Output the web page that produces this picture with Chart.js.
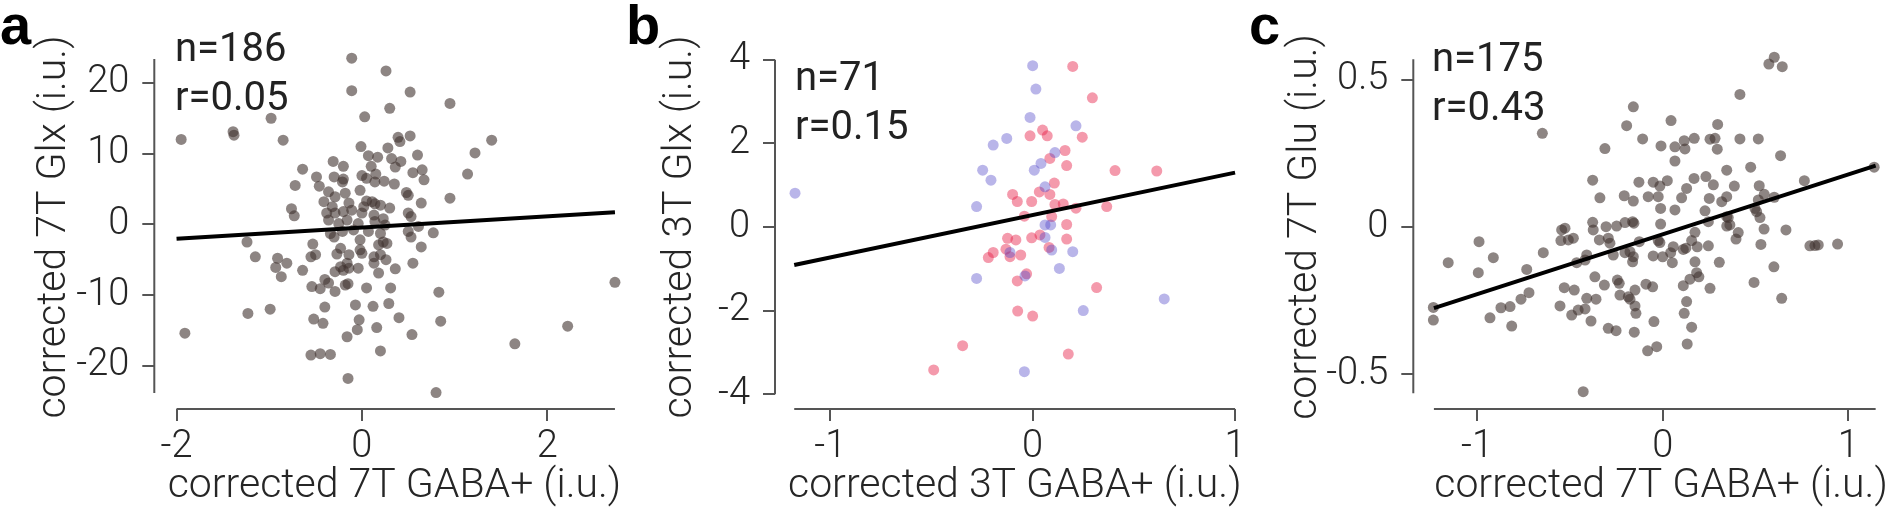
<!DOCTYPE html>
<html>
<head>
<meta charset="utf-8">
<script src="https://cdn.jsdelivr.net/npm/chart.js@4.4.0/dist/chart.umd.min.js"></script>
<style>
    body { margin: 0; width: 1890px; height: 511px; overflow: hidden; background: #fff; position: relative; }
    canvas { position: absolute; top: 0; }
    .letter { position: absolute; top: -3px; font: bold 56px "Liberation Sans", Arial, sans-serif; line-height: 56px; color: #000; }
    .stat { position: absolute; font: 40px Roboto, sans-serif; line-height: 48.5px; color: #222; white-space: pre; }
</style>
</head>
<body>
<canvas id="chartA" width="640" height="511" style="left:0px;width:640px;height:511px"></canvas>
<canvas id="chartB" width="630" height="511" style="left:630px;width:630px;height:511px"></canvas>
<canvas id="chartC" width="655" height="511" style="left:1260px;width:655px;height:511px"></canvas>

<div class="letter" style="left:0px">a</div>
<div class="letter" style="left:626px">b</div>
<div class="letter" style="left:1249px">c</div>
<div class="stat" style="left:175px;top:24px">n=186<br>r=0.05</div>
<div class="stat" style="left:795px;top:53px">n=71<br>r=0.15</div>
<div class="stat" style="left:1432px;top:34px">n=175<br>r=0.43</div>

<script>
// Panel a: 7T GABA+ vs 7T Glx
const aGaba = [-1.95,-1.91,-1.39,-1.38,-0.98,-0.85,-0.64,-0.49,-0.46,-0.72,-0.76,-0.73,-0.31,-0.20,-1.24,-1.15,-0.91,-0.81,-0.93,-0.87,-0.64,-0.53,-0.55,-0.50,-0.54,-0.45,-0.40,-0.36,-0.29,-1.23,-0.99,-0.40,-0.52,-0.42,-0.55,-0.45,-0.34,-0.16,-0.15,-0.11,0.26,-0.11,0.52,0.30,0.95,0.03,-0.01,0.28,0.39,0.41,0.52,0.07,0.17,0.32,0.42,0.36,0.60,1.22,0.10,0.65,0.55,0.67,1.14,0.00,0.15,0.05,0.14,0.24,0.35,-0.30,-0.20,-0.02,0.48,0.50,0.64,0.95,-0.29,-0.18,-0.14,-0.32,0.05,0.11,0.14,0.20,0.02,0.30,0.50,0.53,-0.29,-0.20,-0.11,0.00,-0.36,-0.25,-0.16,-0.04,0.13,0.23,0.25,0.14,0.61,0.77,0.50,0.53,-0.34,-0.21,-0.09,0.07,0.20,-0.02,0.23,0.27,0.18,0.64,-0.23,-0.02,-0.27,-0.14,0.00,0.13,0.20,0.26,0.13,0.55,-0.16,-0.14,-0.04,0.36,0.18,-0.29,-0.20,-0.15,0.05,0.31,0.83,-0.07,0.12,0.29,0.40,-0.03,-0.05,0.16,0.54,0.85,0.20,0.80,1.40,2.73,2.22,1.65,-0.41,-0.38,-0.21,-0.30,-0.23,-0.18,-0.36];
const aGlx = [12.0,-15.4,13.1,12.6,15.0,11.9,7.8,6.7,5.4,5.5,2.2,1.2,8.9,8.2,-2.5,-4.6,-4.8,-5.5,-6.1,-7.4,-6.5,-2.8,-4.6,-4.3,-8.8,-9.1,-7.8,-8.3,-9.5,-12.6,-12.0,-11.7,-13.4,-14.0,-18.5,-18.3,-18.4,-15.9,-21.8,23.5,21.7,18.9,18.7,16.4,17.1,15.2,11.0,10.8,12.3,11.7,12.5,9.7,9.5,9.3,8.9,8.1,9.8,10.1,8.2,7.7,7.3,6.3,7.1,6.9,7.1,6.5,6.0,6.1,5.7,6.7,6.4,4.8,4.5,4.1,3.0,3.7,3.9,4.4,3.0,2.5,3.3,3.2,2.9,2.7,2.5,2.3,1.6,1.1,1.6,1.8,2.0,1.6,0.6,0.1,0.6,0.1,1.3,0.8,-0.1,0.4,-0.3,-1.2,-1.0,-1.8,-1.3,-1.0,-0.8,-1.0,-1.3,-2.2,-2.5,-2.7,-2.9,-3.2,-3.4,-3.6,-4.2,-4.3,-4.1,-4.6,-4.3,-5.0,-5.5,-5.5,-5.5,-6.2,-6.2,-6.3,-6.9,-6.7,-6.5,-8.4,-9.0,-9.0,-9.6,-11.4,-11.6,-11.2,-13.2,-13.5,-14.9,-14.6,-15.6,-13.7,-17.9,-23.8,11.9,-8.2,-14.4,-16.9,3.2,1.6,6.0,-1.8,-6.0,-8.6,4.6];
const aFitX = [-2, 2.73];
const aFitY = [-2.04, 1.70];
const aTicksX = [-2, 0, 2];
const aTicksY = [-20, -10, 0, 10, 20];

// Panel b: 3T GABA+ vs 3T Glx, two sites
const bBlueGaba = [-1.174,-0.195,-0.128,-0.247,-0.206,-0.277,-0.277,-0.041,0.000,0.016,-0.013,0.041,0.008,0.061,0.061,0.061,-0.112,-0.038,0.214,0.110,0.089,0.094,0.198,0.132,0.250,0.650];
const bBlueGlx = [0.81,1.96,2.12,1.36,1.12,0.49,-1.23,-3.46,3.86,3.30,2.62,1.52,1.36,0.96,0.05,-0.25,-0.61,-1.17,2.42,1.78,0.05,-0.55,-0.59,-0.99,-2.00,-1.72];
const bPinkGaba = [-0.013,0.049,-0.099,-0.076,-0.005,0.033,-0.041,-0.124,-0.083,-0.005,0.036,-0.132,-0.112,-0.195,-0.219,-0.059,-0.030,-0.076,-0.074,0.000,-0.346,-0.489,0.198,0.295,0.072,0.245,0.160,0.085,0.168,0.407,0.613,0.107,0.085,0.110,0.151,0.214,0.366,0.094,0.168,0.168,0.081,0.316,0.176];
const bPinkGlx = [2.18,2.32,0.78,0.61,0.61,0.84,0.26,-0.27,-0.31,-0.26,-0.19,-0.53,-0.71,-0.61,-0.73,-0.67,-1.12,-1.29,-2.01,-2.13,-2.84,-3.42,3.84,3.09,2.18,2.15,1.83,1.64,1.47,1.35,1.34,1.05,0.78,0.54,0.55,0.45,0.49,0.25,0.06,-0.29,-0.49,-1.45,-3.04];
const bFitX = [-1.178, 1];
const bFitY = [-0.91, 1.30];
const bTicksX = [-1, 0, 1];
const bTicksY = [-4, -2, 0, 2, 4];

// Panel c: 7T GABA+ vs 7T Glu
const cGaba = [-0.648,-1.235,-1.235,-1.155,-0.989,-0.993,-0.912,-0.930,-0.871,-0.822,-0.813,-0.763,-0.720,-0.732,-0.643,-0.544,-0.526,-0.548,-0.508,-0.481,-0.463,-0.530,-0.476,-0.553,-0.490,-0.455,-0.428,
    -0.158,-0.194,0.045,0.296,-0.108,-0.311,-0.009,0.066,0.116,0.120,0.170,0.255,0.282,0.294,0.066,0.345,-0.377,-0.128,-0.051,-0.015,0.025,0.169,0.233,0.273,0.129,-0.338,-0.207,-0.158,-0.078,-0.024,0.102,0.251,0.318,0.345,-0.011,0.066,0.228,-0.377,-0.374,-0.305,-0.248,-0.203,-0.162,-0.155,-0.011,0.246,0.345,0.345,0.174,-0.341,-0.293,-0.284,-0.126,-0.024,-0.015,0.156,0.186,0.246,0.057,0.111,0.125,-0.409,-0.418,-0.266,-0.203,-0.176,-0.158,-0.162,-0.051,0.000,0.043,0.052,0.305,0.174,0.183,0.195,0.147,0.111,0.255,-0.365,-0.314,-0.244,-0.234,-0.149,-0.090,-0.054,-0.230,-0.185,-0.176,-0.409,-0.359,-0.149,-0.144,0.129,0.116,-0.418,-0.386,-0.047,0.156,-0.293,-0.251,-0.153,0.132,-0.081,-0.032,
    0.601,0.572,0.644,0.416,0.416,0.515,0.635,0.474,0.386,0.520,0.763,1.139,0.547,0.601,0.515,0.497,0.506,0.524,0.353,0.362,0.546,0.664,0.407,0.395,0.529,0.793,0.820,0.838,0.942,0.599,0.492,0.641];
const cGlu = [0.318,-0.273,-0.316,-0.121,-0.050,-0.155,-0.104,-0.308,-0.274,-0.270,-0.336,-0.245,-0.223,-0.144,-0.087,-0.010,-0.004,-0.046,-0.044,-0.038,-0.121,-0.206,-0.214,-0.268,-0.299,-0.282,-0.559,
    0.408,0.344,0.361,0.348,0.299,0.266,0.275,0.272,0.293,0.265,0.301,0.298,0.301,0.264,0.224,0.193,0.159,0.152,0.152,0.139,0.157,0.165,0.171,0.143,0.131,0.099,0.106,0.088,0.103,0.103,0.099,0.097,0.086,0.103,0.063,0.058,0.055,0.016,-0.010,0.001,0.003,0.015,0.018,0.013,0.010,0.018,0.035,0.003,-0.018,-0.044,-0.038,-0.055,-0.050,-0.046,-0.053,-0.046,-0.067,-0.064,-0.067,-0.076,-0.072,-0.095,-0.112,-0.095,-0.087,-0.084,-0.101,-0.118,-0.098,-0.101,-0.087,-0.121,-0.120,-0.118,-0.155,-0.169,-0.177,-0.199,-0.208,-0.169,-0.197,-0.180,-0.191,-0.214,-0.194,-0.203,-0.231,-0.237,-0.245,-0.242,-0.245,-0.268,-0.293,-0.253,-0.293,-0.278,-0.319,-0.321,-0.340,-0.344,-0.352,-0.357,-0.397,-0.420,-0.406,
    0.576,0.553,0.544,0.450,0.299,0.299,0.242,0.203,0.139,0.140,0.157,0.203,0.111,0.101,0.092,0.063,0.052,0.032,0.032,0.007,-0.007,-0.010,-0.019,-0.041,-0.059,-0.064,-0.063,-0.061,-0.058,-0.135,-0.188,-0.242];
const cFitX = [-1.232, 1.147];
const cFitY = [-0.275, 0.208];
const cTicksX = [-1, 0, 1];
const cTicksY = [-0.5, 0, 0.5];

const spineColor = '#555555';
const textColor = '#262626';
const grayDot = 'rgba(65, 52, 49, 0.6)';
const blueDot = 'rgba(80, 70, 200, 0.4)';
const pinkDot = 'rgba(230, 30, 70, 0.45)';

function zip(xs, ys) {
    return xs.map((x, i) => ({ x: x, y: ys[i] }));
}

// offset spines like the original figure: each axis line only spans its own range
const spinePlugin = {
    id: 'spines',
    afterDraw(chart, args, opts) {
        const { ctx, chartArea, scales } = chart;
        ctx.save();
        ctx.strokeStyle = spineColor;
        ctx.lineWidth = 2;
        ctx.beginPath();
        ctx.moveTo(scales.x.getPixelForValue(opts.xSpan[0]), chartArea.bottom);
        ctx.lineTo(scales.x.getPixelForValue(opts.xSpan[1]), chartArea.bottom);
        ctx.moveTo(chartArea.left, scales.y.getPixelForValue(opts.ySpan[0]));
        ctx.lineTo(chartArea.left, scales.y.getPixelForValue(opts.ySpan[1]));
        ctx.stroke();
        ctx.restore();
    }
};

function buildPanel(canvasId, p) {
    const datasets = [{
        data: zip(p.fitX, p.fitY),
        showLine: true,
        borderColor: '#000',
        borderWidth: 4,
        pointRadius: 0,
        order: 0
    }];
    p.groups.forEach(g => {
        datasets.push({
            data: g.points,
            backgroundColor: g.color,
            borderWidth: 0,
            pointRadius: 5.5,
            order: 1
        });
    });

    const tickFont = { family: 'Roboto', size: 38, weight: 300 };
    const titleFont = { family: 'Roboto', size: 41, weight: 300 };

    return new Chart(document.getElementById(canvasId), {
        type: 'scatter',
        data: { datasets: datasets },
        options: {
            responsive: false,
            animation: false,
            devicePixelRatio: 1,
            layout: { padding: { left: 0, top: 45, right: p.padRight, bottom: 0 } },
            plugins: {
                legend: { display: false },
                tooltip: { enabled: false },
                spines: { xSpan: p.xSpan, ySpan: p.ySpan }
            },
            scales: {
                x: {
                    type: 'linear',
                    min: p.xMin,
                    max: p.xMax,
                    afterBuildTicks: s => { s.ticks = p.ticksX.map(v => ({ value: v })); },
                    afterFit: s => { s.height = 102; },
                    border: { display: false },
                    grid: { drawOnChartArea: false, drawTicks: true, tickLength: 12, color: spineColor, lineWidth: 2 },
                    ticks: { padding: 4, color: textColor, font: tickFont, maxRotation: 0, autoSkip: false, callback: v => String(v) },
                    title: { display: true, text: p.xTitle, color: textColor, font: titleFont, padding: { top: 0, bottom: 0 } }
                },
                y: {
                    type: 'linear',
                    min: p.yMin,
                    max: p.yMax,
                    afterBuildTicks: s => { s.ticks = p.ticksY.map(v => ({ value: v })); },
                    afterFit: s => { s.width = p.yWidth; },
                    border: { display: false },
                    grid: { drawOnChartArea: false, drawTicks: true, tickLength: 12, color: spineColor, lineWidth: 2 },
                    ticks: { padding: 13, color: textColor, font: tickFont, autoSkip: false, callback: v => String(v) },
                    title: { display: true, text: p.yTitle, color: textColor, font: titleFont, padding: { top: p.yTitlePad, bottom: 0 } }
                }
            }
        },
        plugins: [spinePlugin]
    });
}

buildPanel('chartA', {
    groups: [{ points: zip(aGaba, aGlx), color: grayDot }],
    fitX: aFitX, fitY: aFitY,
    ticksX: aTicksX, ticksY: aTicksY,
    xMin: -2.240, xMax: 2.941, yMin: -26.12, yMax: 25.36,
    xSpan: [-2, 2.73], ySpan: [-23.86, 23.38],
    yWidth: 154.3, padRight: 2.3, yTitlePad: 29.7,
    xTitle: 'corrected 7T GABA+ (i.u.)', yTitle: 'corrected 7T Glx (i.u.)'
});

buildPanel('chartB', {
    groups: [
        { points: zip(bBlueGaba, bBlueGlx), color: blueDot },
        { points: zip(bPinkGaba, bPinkGlx), color: pinkDot }
    ],
    fitX: bFitX, fitY: bFitY,
    ticksX: bTicksX, ticksY: bTicksY,
    xMin: -1.273, xMax: 1.096, yMin: -4.354, yMax: 4.354,
    xSpan: [-1.178, 1], ySpan: [-4, 4],
    yWidth: 145, padRight: 5.4, yTitlePad: 26.4,
    xTitle: 'corrected 3T GABA+ (i.u.)', yTitle: 'corrected 3T Glx (i.u.)'
});

buildPanel('chartC', {
    groups: [{ points: zip(cGaba, cGlu), color: grayDot }],
    fitX: cFitX, fitY: cFitY,
    ticksX: cTicksX, ticksY: cTicksY,
    xMin: -1.343, xMax: 1.325, yMin: -0.6176, yMax: 0.6176,
    xSpan: [-1.232, 1.147], ySpan: [-0.564, 0.569],
    yWidth: 153.3, padRight: 6.3, yTitlePad: 21.4,
    xTitle: 'corrected 7T GABA+ (i.u.)', yTitle: 'corrected 7T Glu (i.u.)'
});
</script>
</body>
</html>
